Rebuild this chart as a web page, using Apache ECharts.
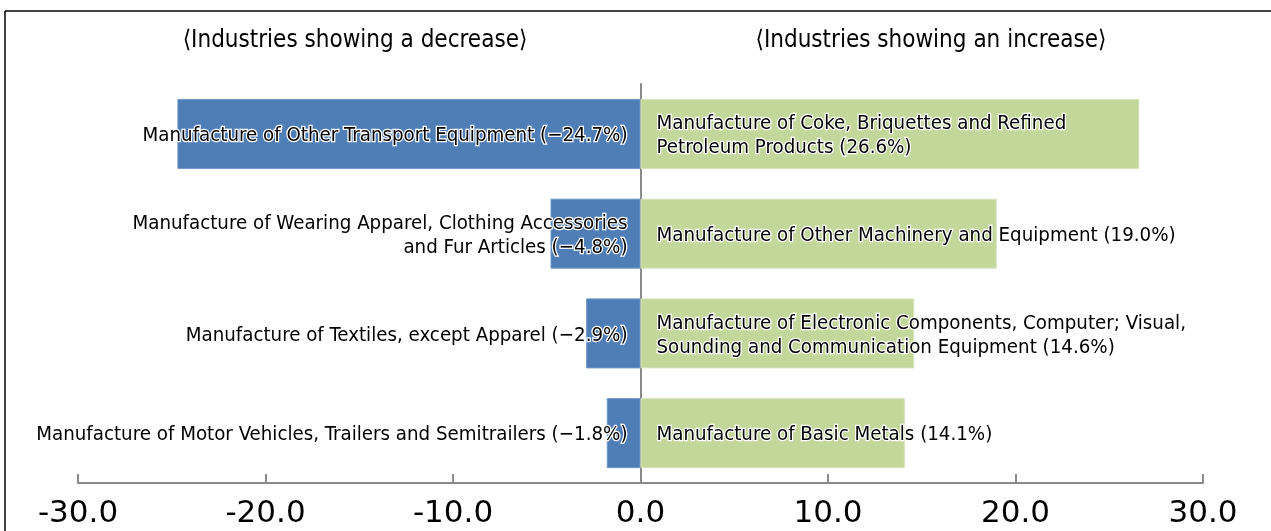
<!DOCTYPE html>
<html>
<head>
<meta charset="utf-8">
<script src="https://cdn.jsdelivr.net/npm/echarts@6/dist/echarts.min.js"></script>
<style>html,body{margin:0;padding:0;background:#fff}#c{width:1271px;height:531px}</style>
</head>
<body>
<div id="c"></div>
<script>
var rows = ['Row 1', 'Row 2', 'Row 3', 'Row 4'];
var decreaseNames = [
  'Manufacture of Other Transport Equipment (\u221224.7%)',
  'Manufacture of Wearing Apparel, Clothing Accessories\nand Fur Articles (\u22124.8%)',
  'Manufacture of Textiles, except Apparel (\u22122.9%)',
  'Manufacture of Motor Vehicles, Trailers and Semitrailers (\u22121.8%)'
];
var decreaseValues = [-24.7, -4.8, -2.9, -1.8];
var increaseNames = [
  'Manufacture of Coke, Briquettes and Refined\nPetroleum Products (26.6%)',
  'Manufacture of Other Machinery and Equipment (19.0%)',
  'Manufacture of Electronic Components, Computer; Visual,\nSounding and Communication Equipment (14.6%)',
  'Manufacture of Basic Metals (14.1%)'
];
var increaseValues = [26.6, 19.0, 14.6, 14.1];
var headers = ['\u27E8Industries showing a decrease\u27E9', '\u27E8Industries showing an increase\u27E9'];

var labelFont = '"DejaVu Sans Condensed", "Liberation Sans", sans-serif';

var chart = echarts.init(document.getElementById('c'), null, {renderer: 'canvas'});
function labelStyle(pos, dist) {
  return {
    show: true,
    position: pos,
    distance: dist,
    offset: [0, 2],
    fontFamily: labelFont,
    fontSize: 20.3,
    lineHeight: 24,
    color: '#000',
    textBorderColor: '#fff',
    textBorderWidth: 2.5,
    align: pos === 'insideRight' ? 'right' : 'left'
  };
}
chart.setOption({
  animation: false,
  grid: {left: 78, right: 68, top: 84, bottom: 48, containLabel: false},
  xAxis: {
    type: 'value', min: -30, max: 30, interval: 10,
    axisLine: {show: true, lineStyle: {color: '#8a8a8a', width: 2}},
    axisTick: {show: true, inside: true, length: 9, lineStyle: {color: '#8a8a8a', width: 2}},
    splitLine: {show: false},
    axisLabel: {
      formatter: function (v) { return v.toFixed(1); },
      fontFamily: '"DejaVu Sans", sans-serif',
      fontSize: 31, color: '#000', margin: 15
    }
  },
  yAxis: {
    type: 'category', data: rows, inverse: true,
    axisLine: {show: true, onZero: true, lineStyle: {color: '#8a8a8a', width: 2}},
    axisTick: {show: false},
    axisLabel: {show: false},
    splitLine: {show: false}
  },
  series: [
    {
      type: 'bar', name: 'decrease', barWidth: 70, barGap: '-100%',
      data: decreaseValues.map(function (v, i) { return {value: v, label: {formatter: decreaseNames[i]}}; }),
      itemStyle: {color: '#4F7DB5', borderColor: '#6f96c6', borderWidth: 1},
      label: labelStyle('insideRight', 13),
      z: 2
    },
    {
      type: 'bar', name: 'increase', barWidth: 70, barGap: '-100%',
      data: increaseValues.map(function (v, i) { return {value: v, label: {formatter: increaseNames[i]}}; }),
      itemStyle: {color: '#C4D79B', borderColor: '#d6e3bc', borderWidth: 1},
      label: labelStyle('insideLeft', 16),
      z: 2
    }
  ],
  graphic: [
    {type: 'line', shape: {x1: 5, y1: 11, x2: 1271, y2: 11}, style: {stroke: '#000', lineWidth: 1.5}},
    {type: 'line', shape: {x1: 5, y1: 11, x2: 5, y2: 531}, style: {stroke: '#000', lineWidth: 1.5}},
    {type: 'text', x: 355, y: 41, style: {text: headers[0], font: '24px ' + labelFont, fill: '#000', textAlign: 'center', textVerticalAlign: 'middle'}},
    {type: 'text', x: 931, y: 41, style: {text: headers[1], font: '24px ' + labelFont, fill: '#000', textAlign: 'center', textVerticalAlign: 'middle'}}
  ]
});
</script>
</body>
</html>
